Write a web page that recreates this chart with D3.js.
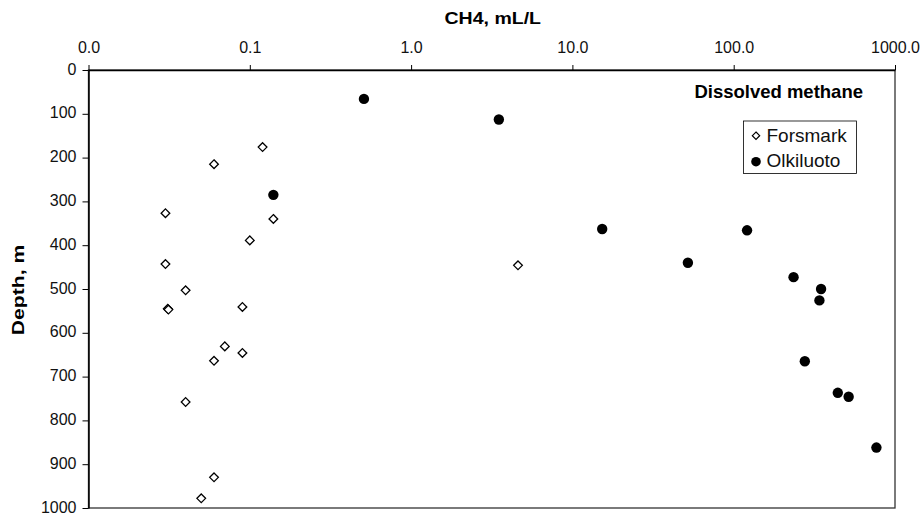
<!DOCTYPE html>
<html>
<head>
<meta charset="utf-8">
<script src="https://cdn.jsdelivr.net/npm/d3@7"></script>
<style>
  body { margin: 0; background: #fff; }
  text { font-family: Arial, "Liberation Sans", sans-serif; }
</style>
</head>
<body>
<div id="chart"></div>
<script>
// CH4 (mL/L) and depth (m)
var forsmarkCH4   = [0.12, 0.06, 0.030, 0.14, 0.10, 0.030, 0.040, 0.031, 0.0313, 0.09, 0.07, 0.06, 0.09, 0.040, 0.06, 0.05, 4.6];
var forsmarkDepth = [176, 215, 327, 340, 389, 443, 503, 545, 547, 541, 631, 664, 646, 758, 930, 978, 446];

var olkiluotoCH4   = [0.51, 0.14, 3.5, 15.3, 121, 52, 235, 348, 340, 276, 442, 516, 767];
var olkiluotoDepth = [66, 285, 113, 363, 366, 440, 473, 500, 526, 665, 737, 746, 862];

var xTicks = [0.01, 0.1, 1, 10, 100, 1000];
var yTicks = [0, 100, 200, 300, 400, 500, 600, 700, 800, 900, 1000];
var seriesNames = ["Forsmark", "Olkiluoto"];

var width = 921, height = 515;
var margin = {top: 70, right: 26, bottom: 7, left: 88.5};

var svg = d3.select("#chart").append("svg")
    .attr("width", width)
    .attr("height", height)

var x = d3.scaleLog().domain([0.01, 1000]).range([margin.left, width - margin.right]);
var y = d3.scaleLinear().domain([0, 1000]).range([margin.top, height - margin.bottom]);

// plot frame (right and bottom edges)
svg.append("rect")
    .attr("x", x(0.01))
    .attr("y", y(0))
    .attr("width", x(1000) - x(0.01))
    .attr("height", y(1000) - y(0))
    .style("fill", "none")
    .style("stroke", "#333")
    .style("stroke-width", 1.3)

var xAxis = svg.append("g")
    .attr("transform", "translate(0," + y(0) + ")")
    .call(d3.axisTop(x).tickValues(xTicks).tickSize(5).tickSizeOuter(0)
        .tickFormat(d3.format(".1f")))

var yAxis = svg.append("g")
    .attr("transform", "translate(" + x(0.01) + ",0)")
    .call(d3.axisLeft(y).tickValues(yTicks).tickSize(6).tickSizeOuter(0)
        .tickFormat(d3.format("d")))

svg.selectAll(".domain").style("stroke", "#000").style("stroke-width", 1.5)
svg.selectAll(".tick line").style("stroke", "#000")
svg.selectAll(".tick text")
    .attr("font-size", null)
    .style("font-size", "16px")
    .style("fill", "#111")
xAxis.selectAll(".tick text").attr("y", -17).attr("dy", null)
yAxis.selectAll(".tick text").attr("x", -12).attr("dy", "0.26em")

// axis titles (glyphs are a bit wide in the original)
svg.append("text")
    .attr("transform", "translate(" + ((x(0.01) + x(1000)) / 2 + 1) + ",24) scale(1.22,1)")
    .attr("text-anchor", "middle")
    .style("font-weight", "bold")
    .style("font-size", "16px")
    .text("CH4, mL/L")

svg.append("text")
    .attr("transform", "translate(23.5," + ((y(0) + y(1000)) / 2 + 1) + ") rotate(-90) scale(1.32,1)")
    .attr("text-anchor", "middle")
    .style("font-weight", "bold")
    .style("font-size", "16px")
    .text("Depth, m")

svg.append("text")
    .attr("x", 863)
    .attr("y", 98)
    .attr("text-anchor", "end")
    .style("font-weight", "bold")
    .style("font-size", "18.5px")
    .text("Dissolved methane")

var diamond = d3.symbol().type(d3.symbolDiamond2).size(48);

svg.selectAll("forsmark")
    .data(forsmarkCH4)
    .enter()
    .append("path")
    .attr("d", diamond)
    .attr("transform", function(d, i){ return "translate(" + x(d) + "," + y(forsmarkDepth[i]) + ")" })
    .style("fill", "#fff")
    .style("stroke", "#000")
    .style("stroke-width", 1.3)

svg.selectAll("olkiluoto")
    .data(olkiluotoCH4)
    .enter()
    .append("circle")
    .attr("cx", function(d){ return x(d) })
    .attr("cy", function(d, i){ return y(olkiluotoDepth[i]) })
    .attr("r", 5.2)
    .style("fill", "#000")

// legend
var legend = svg.append("g").attr("transform", "translate(743.5,121)")
legend.append("rect")
    .attr("width", 113)
    .attr("height", 52.5)
    .style("fill", "#fff")
    .style("stroke", "#000")
    .style("stroke-width", 0.8)

legend.append("path")
    .attr("d", d3.symbol().type(d3.symbolDiamond2).size(34))
    .attr("transform", "translate(12.5,14.7)")
    .style("fill", "#fff")
    .style("stroke", "#000")
    .style("stroke-width", 1.2)
legend.append("circle")
    .attr("cx", 12.5).attr("cy", 40.7).attr("r", 4.8)
    .style("fill", "#000")

legend.selectAll("labels")
    .data(seriesNames)
    .enter()
    .append("text")
    .attr("x", 23)
    .attr("y", function(d, i){ return 20.7 + i * 25 })
    .style("font-size", "19px")
    .style("fill", "#111")
    .text(function(d){ return d })
</script>
</body>
</html>
